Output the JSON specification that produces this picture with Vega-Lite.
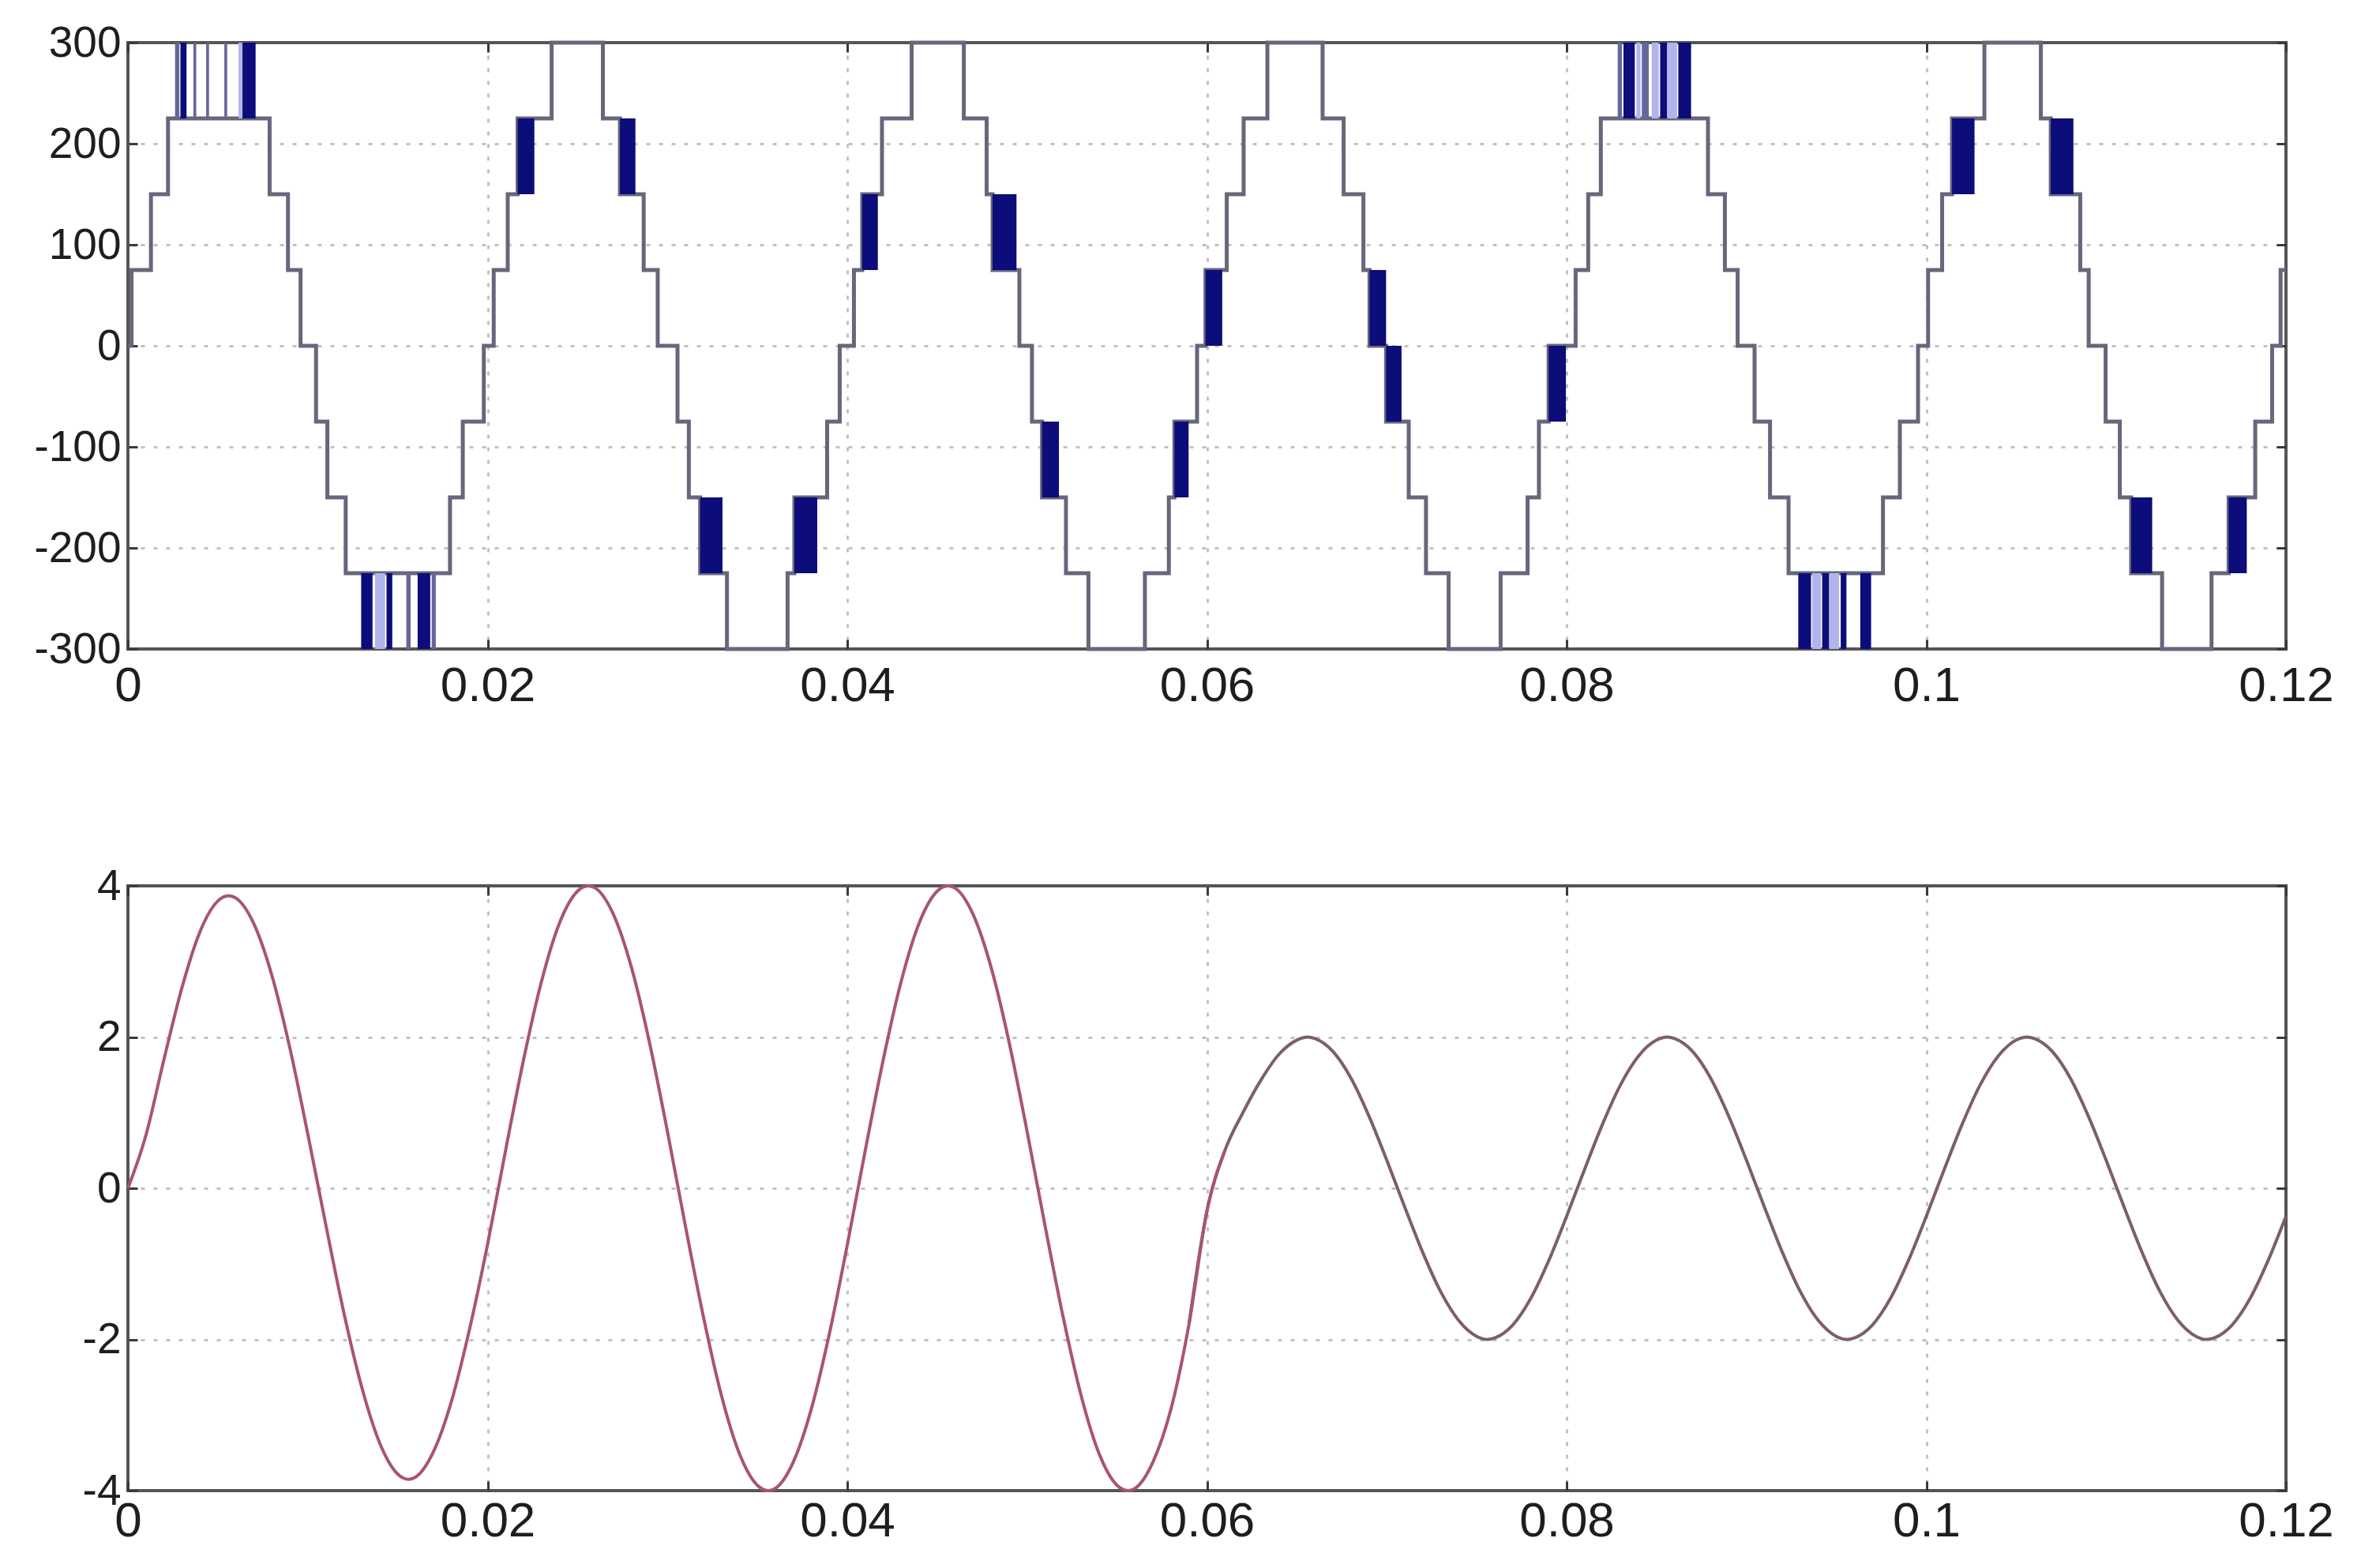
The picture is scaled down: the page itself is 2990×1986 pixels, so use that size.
{
  "$schema": "https://vega.github.io/schema/vega-lite/v6.json",
  "background": "white",
  "padding": {"left": 40, "top": 25, "right": 10, "bottom": 10},
  "spacing": 300,
  "bounds": "flush",
  "config": {
    "font": "Liberation Sans",
    "view": {"stroke": "#555555", "strokeWidth": 4},
    "axis": {"domain": false, "ticks": true, "tickSize": -12, "tickWidth": 3, "tickColor": "#3a3a3a", "grid": true, "gridColor": "#c2c2c2", "gridDash": [5, 11], "gridWidth": 3, "labelFont": "Liberation Sans", "labelColor": "#1e1e1e", "labelFlush": false, "labelOverlap": false, "labelBound": false},
    "axisX": {"labelFontSize": 62, "labelPadding": 28},
    "axisY": {"labelFontSize": 55, "labelPadding": 21}
  },
  "datasets": {
    "stairs": [
      {"t": 0, "v": 0}, {"t": 0.0002, "v": 75}, {"t": 0.00128, "v": 150}, {"t": 0.00223, "v": 225}, {"t": 0.00788, "v": 150}, {"t": 0.0089, "v": 75}, {"t": 0.0096, "v": 0}, {"t": 0.01046, "v": -75}, {"t": 0.01109, "v": -150}, {"t": 0.01211, "v": -225}, {"t": 0.01791, "v": -150}, {"t": 0.01862, "v": -75}, {"t": 0.01979, "v": 0},
      {"t": 0.02034, "v": 75}, {"t": 0.02112, "v": 150}, {"t": 0.02167, "v": 225}, {"t": 0.02356, "v": 300}, {"t": 0.02641, "v": 225}, {"t": 0.02736, "v": 150}, {"t": 0.02868, "v": 75}, {"t": 0.02946, "v": 0}, {"t": 0.03056, "v": -75}, {"t": 0.03119, "v": -150}, {"t": 0.03182, "v": -225}, {"t": 0.03331, "v": -300}, {"t": 0.03668, "v": -225}, {"t": 0.03706, "v": -150}, {"t": 0.03888, "v": -75}, {"t": 0.03958, "v": 0},
      {"t": 0.04037, "v": 75}, {"t": 0.04083, "v": 150}, {"t": 0.04193, "v": 225}, {"t": 0.04358, "v": 300}, {"t": 0.04648, "v": 225}, {"t": 0.04775, "v": 150}, {"t": 0.04808, "v": 75}, {"t": 0.04957, "v": 0}, {"t": 0.05027, "v": -75}, {"t": 0.05083, "v": -150}, {"t": 0.05216, "v": -225}, {"t": 0.05341, "v": -300}, {"t": 0.05655, "v": -225}, {"t": 0.05788, "v": -150}, {"t": 0.05819, "v": -75}, {"t": 0.05945, "v": 0},
      {"t": 0.05992, "v": 75}, {"t": 0.0611, "v": 150}, {"t": 0.06204, "v": 225}, {"t": 0.06336, "v": 300}, {"t": 0.06643, "v": 225}, {"t": 0.0676, "v": 150}, {"t": 0.0687, "v": 75}, {"t": 0.06904, "v": 0}, {"t": 0.06996, "v": -75}, {"t": 0.07122, "v": -150}, {"t": 0.07218, "v": -225}, {"t": 0.07344, "v": -300}, {"t": 0.07633, "v": -225}, {"t": 0.07783, "v": -150}, {"t": 0.07846, "v": -75}, {"t": 0.079, "v": 0},
      {"t": 0.0805, "v": 75}, {"t": 0.0812, "v": 150}, {"t": 0.0819, "v": 225}, {"t": 0.08786, "v": 150}, {"t": 0.0888, "v": 75}, {"t": 0.08951, "v": 0}, {"t": 0.09045, "v": -75}, {"t": 0.09131, "v": -150}, {"t": 0.09234, "v": -225}, {"t": 0.09759, "v": -150}, {"t": 0.09853, "v": -75}, {"t": 0.09954, "v": 0},
      {"t": 0.1001, "v": 75}, {"t": 0.10088, "v": 150}, {"t": 0.10143, "v": 225}, {"t": 0.10323, "v": 300}, {"t": 0.10637, "v": 225}, {"t": 0.10692, "v": 150}, {"t": 0.10856, "v": 75}, {"t": 0.10903, "v": 0}, {"t": 0.10997, "v": -75}, {"t": 0.11076, "v": -150}, {"t": 0.11139, "v": -225}, {"t": 0.11311, "v": -300}, {"t": 0.11586, "v": -225}, {"t": 0.11681, "v": -150}, {"t": 0.11829, "v": -75}, {"t": 0.11923, "v": 0}, {"t": 0.1197, "v": 75}, {"t": 0.12, "v": 75}
    ],
    "bands": [
      {"t0": 0.00262, "t1": 0.00286, "lo": 225, "hi": 300, "shade": "mid"},
      {"t0": 0.00292, "t1": 0.00326, "lo": 225, "hi": 300, "shade": "dark"},
      {"t0": 0.00364, "t1": 0.0038, "lo": 225, "hi": 300, "shade": "mid"},
      {"t0": 0.00435, "t1": 0.00451, "lo": 225, "hi": 300, "shade": "mid"},
      {"t0": 0.00536, "t1": 0.00552, "lo": 225, "hi": 300, "shade": "mid"},
      {"t0": 0.00615, "t1": 0.00637, "lo": 225, "hi": 300, "shade": "light"},
      {"t0": 0.00637, "t1": 0.0071, "lo": 225, "hi": 300, "shade": "dark"},
      {"t0": 0.01297, "t1": 0.0136, "lo": -300, "hi": -225, "shade": "dark"},
      {"t0": 0.01374, "t1": 0.0143, "lo": -300, "hi": -225, "shade": "light"},
      {"t0": 0.01438, "t1": 0.0147, "lo": -300, "hi": -225, "shade": "dark"},
      {"t0": 0.01548, "t1": 0.01572, "lo": -300, "hi": -225, "shade": "mid"},
      {"t0": 0.01611, "t1": 0.01681, "lo": -300, "hi": -225, "shade": "dark"},
      {"t0": 0.01689, "t1": 0.01712, "lo": -300, "hi": -225, "shade": "mid"},
      {"t0": 0.02167, "t1": 0.0226, "lo": 150, "hi": 225, "shade": "dark"},
      {"t0": 0.02736, "t1": 0.02822, "lo": 150, "hi": 225, "shade": "dark"},
      {"t0": 0.03182, "t1": 0.03306, "lo": -225, "hi": -150, "shade": "dark"},
      {"t0": 0.03706, "t1": 0.03833, "lo": -225, "hi": -150, "shade": "dark"},
      {"t0": 0.04083, "t1": 0.0417, "lo": 75, "hi": 150, "shade": "dark"},
      {"t0": 0.04808, "t1": 0.04941, "lo": 75, "hi": 150, "shade": "dark"},
      {"t0": 0.05083, "t1": 0.05177, "lo": -150, "hi": -75, "shade": "dark"},
      {"t0": 0.05819, "t1": 0.05898, "lo": -150, "hi": -75, "shade": "dark"},
      {"t0": 0.05992, "t1": 0.06085, "lo": 0, "hi": 75, "shade": "dark"},
      {"t0": 0.06904, "t1": 0.06996, "lo": 0, "hi": 75, "shade": "dark"},
      {"t0": 0.06996, "t1": 0.07082, "lo": -75, "hi": 0, "shade": "dark"},
      {"t0": 0.079, "t1": 0.07996, "lo": -75, "hi": 0, "shade": "dark"},
      {"t0": 0.08284, "t1": 0.08308, "lo": 225, "hi": 300, "shade": "mid"},
      {"t0": 0.08316, "t1": 0.08379, "lo": 225, "hi": 300, "shade": "dark"},
      {"t0": 0.08388, "t1": 0.08411, "lo": 225, "hi": 300, "shade": "light"},
      {"t0": 0.08418, "t1": 0.08457, "lo": 225, "hi": 300, "shade": "mid"},
      {"t0": 0.08473, "t1": 0.08512, "lo": 225, "hi": 300, "shade": "light"},
      {"t0": 0.0852, "t1": 0.08559, "lo": 225, "hi": 300, "shade": "dark"},
      {"t0": 0.08559, "t1": 0.08614, "lo": 225, "hi": 300, "shade": "light"},
      {"t0": 0.08621, "t1": 0.08692, "lo": 225, "hi": 300, "shade": "dark"},
      {"t0": 0.09288, "t1": 0.09359, "lo": -300, "hi": -225, "shade": "dark"},
      {"t0": 0.09365, "t1": 0.09415, "lo": -300, "hi": -225, "shade": "light"},
      {"t0": 0.09421, "t1": 0.0946, "lo": -300, "hi": -225, "shade": "dark"},
      {"t0": 0.0946, "t1": 0.09515, "lo": -300, "hi": -225, "shade": "light"},
      {"t0": 0.09524, "t1": 0.09556, "lo": -300, "hi": -225, "shade": "dark"},
      {"t0": 0.09633, "t1": 0.09693, "lo": -300, "hi": -225, "shade": "dark"},
      {"t0": 0.10143, "t1": 0.10268, "lo": 150, "hi": 225, "shade": "dark"},
      {"t0": 0.10692, "t1": 0.10818, "lo": 150, "hi": 225, "shade": "dark"},
      {"t0": 0.11139, "t1": 0.11256, "lo": -225, "hi": -150, "shade": "dark"},
      {"t0": 0.11681, "t1": 0.11782, "lo": -225, "hi": -150, "shade": "dark"}
    ],
    "current": [
      {"t": 0, "i": 0}, {"t": 0.001, "i": 0.7}, {"t": 0.002, "i": 1.7}, {"t": 0.003, "i": 2.65}, {"t": 0.004, "i": 3.39}, {"t": 0.005, "i": 3.8}, {"t": 0.0056, "i": 3.87}, {"t": 0.006, "i": 3.84}, {"t": 0.007, "i": 3.5}, {"t": 0.008, "i": 2.82}, {"t": 0.009, "i": 1.86}, {"t": 0.01, "i": 0.72}, {"t": 0.011, "i": -0.48}, {"t": 0.012, "i": -1.64}, {"t": 0.013, "i": -2.63}, {"t": 0.014, "i": -3.37}, {"t": 0.015, "i": -3.78}, {"t": 0.0156, "i": -3.85}, {"t": 0.016, "i": -3.82}, {"t": 0.017, "i": -3.48}, {"t": 0.018, "i": -2.81}, {"t": 0.019, "i": -1.86},
      {"t": 0.02, "i": -0.74}, {"t": 0.021, "i": 0.5}, {"t": 0.022, "i": 1.7}, {"t": 0.023, "i": 2.74}, {"t": 0.024, "i": 3.51}, {"t": 0.025, "i": 3.93}, {"t": 0.0256, "i": 4.0}, {"t": 0.026, "i": 3.97}, {"t": 0.027, "i": 3.62}, {"t": 0.028, "i": 2.92}, {"t": 0.029, "i": 1.93}, {"t": 0.03, "i": 0.75}, {"t": 0.031, "i": -0.5}, {"t": 0.032, "i": -1.7}, {"t": 0.033, "i": -2.74}, {"t": 0.034, "i": -3.51}, {"t": 0.035, "i": -3.93}, {"t": 0.0356, "i": -4.0}, {"t": 0.036, "i": -3.97}, {"t": 0.037, "i": -3.62}, {"t": 0.038, "i": -2.92}, {"t": 0.039, "i": -1.93},
      {"t": 0.04, "i": -0.75}, {"t": 0.041, "i": 0.5}, {"t": 0.042, "i": 1.7}, {"t": 0.043, "i": 2.74}, {"t": 0.044, "i": 3.51}, {"t": 0.045, "i": 3.93}, {"t": 0.0456, "i": 4.0}, {"t": 0.046, "i": 3.97}, {"t": 0.047, "i": 3.62}, {"t": 0.048, "i": 2.92}, {"t": 0.049, "i": 1.93}, {"t": 0.05, "i": 0.75}, {"t": 0.051, "i": -0.5}, {"t": 0.052, "i": -1.7}, {"t": 0.053, "i": -2.74}, {"t": 0.054, "i": -3.51}, {"t": 0.055, "i": -3.93}, {"t": 0.0556, "i": -4.0}, {"t": 0.056, "i": -3.97}, {"t": 0.057, "i": -3.62}, {"t": 0.058, "i": -2.92}, {"t": 0.059, "i": -1.8},
      {"t": 0.06, "i": -0.3}, {"t": 0.061, "i": 0.5}, {"t": 0.062, "i": 1.0}, {"t": 0.063, "i": 1.43}, {"t": 0.064, "i": 1.77}, {"t": 0.065, "i": 1.96}, {"t": 0.0656, "i": 2.0}, {"t": 0.066, "i": 1.98}, {"t": 0.067, "i": 1.81}, {"t": 0.068, "i": 1.46}, {"t": 0.069, "i": 0.96}, {"t": 0.07, "i": 0.37}, {"t": 0.071, "i": -0.25}, {"t": 0.072, "i": -0.85}, {"t": 0.073, "i": -1.37}, {"t": 0.074, "i": -1.75}, {"t": 0.075, "i": -1.96}, {"t": 0.0756, "i": -2.0}, {"t": 0.076, "i": -1.98}, {"t": 0.077, "i": -1.81}, {"t": 0.078, "i": -1.46}, {"t": 0.079, "i": -0.96},
      {"t": 0.08, "i": -0.37}, {"t": 0.081, "i": 0.25}, {"t": 0.082, "i": 0.85}, {"t": 0.083, "i": 1.37}, {"t": 0.084, "i": 1.75}, {"t": 0.085, "i": 1.96}, {"t": 0.0856, "i": 2.0}, {"t": 0.086, "i": 1.98}, {"t": 0.087, "i": 1.81}, {"t": 0.088, "i": 1.46}, {"t": 0.089, "i": 0.96}, {"t": 0.09, "i": 0.37}, {"t": 0.091, "i": -0.25}, {"t": 0.092, "i": -0.85}, {"t": 0.093, "i": -1.37}, {"t": 0.094, "i": -1.75}, {"t": 0.095, "i": -1.96}, {"t": 0.0956, "i": -2.0}, {"t": 0.096, "i": -1.98}, {"t": 0.097, "i": -1.81}, {"t": 0.098, "i": -1.46}, {"t": 0.099, "i": -0.96},
      {"t": 0.1, "i": -0.37}, {"t": 0.101, "i": 0.25}, {"t": 0.102, "i": 0.85}, {"t": 0.103, "i": 1.37}, {"t": 0.104, "i": 1.75}, {"t": 0.105, "i": 1.96}, {"t": 0.1056, "i": 2.0}, {"t": 0.106, "i": 1.98}, {"t": 0.107, "i": 1.81}, {"t": 0.108, "i": 1.46}, {"t": 0.109, "i": 0.96}, {"t": 0.11, "i": 0.37}, {"t": 0.111, "i": -0.25}, {"t": 0.112, "i": -0.85}, {"t": 0.113, "i": -1.37}, {"t": 0.114, "i": -1.75}, {"t": 0.115, "i": -1.96}, {"t": 0.1156, "i": -2.0}, {"t": 0.116, "i": -1.98}, {"t": 0.117, "i": -1.81}, {"t": 0.118, "i": -1.46}, {"t": 0.119, "i": -0.96}, {"t": 0.12, "i": -0.37}
    ]
  },
  "vconcat": [
    {
      "width": 2733,
      "height": 768,
      "resolve": {"axis": {"x": "independent", "y": "independent"}},
      "layer": [
        {
          "data": {"name": "stairs"},
          "mark": {"type": "line", "interpolate": "step-after", "color": "#66667c", "strokeWidth": 5},
          "encoding": {
            "x": {"field": "t", "type": "quantitative", "scale": {"domain": [0, 0.12], "nice": false, "zero": false}, "axis": {"orient": "bottom", "values": [0, 0.02, 0.04, 0.06, 0.08, 0.1, 0.12], "labelExpr": "'' + datum.value", "title": null, "gridOpacity": {"condition": {"test": "datum.value == 0 || datum.value == 0.12", "value": 0}, "value": 1}}},
            "y": {"field": "v", "type": "quantitative", "scale": {"domain": [-300, 300], "nice": false}, "axis": {"orient": "left", "values": [-300, -200, -100, 0, 100, 200, 300], "labelExpr": "'' + datum.value", "title": null, "gridOpacity": {"condition": {"test": "abs(datum.value) == 300", "value": 0}, "value": 1}}}
          }
        },
        {
          "data": {"name": "bands"},
          "mark": {"type": "rect"},
          "encoding": {
            "x": {"field": "t0", "type": "quantitative", "axis": {"orient": "top", "values": [0, 0.02, 0.04, 0.06, 0.08, 0.1, 0.12], "labels": false, "grid": false, "title": null}},
            "x2": {"field": "t1"},
            "y": {"field": "lo", "type": "quantitative", "axis": {"orient": "right", "values": [-300, -200, -100, 0, 100, 200, 300], "labels": false, "grid": false, "title": null}},
            "y2": {"field": "hi"},
            "color": {"field": "shade", "type": "nominal", "scale": {"domain": ["dark", "mid", "light"], "range": ["#0c0c7a", "#66669a", "#b4b4ec"]}, "legend": null}
          }
        }
      ]
    },
    {
      "width": 2733,
      "height": 766,
      "resolve": {"axis": {"x": "independent", "y": "independent"}},
      "layer": [
        {
          "data": {"name": "current"},
          "transform": [{"filter": "datum.t >= 0.059"}],
          "mark": {"type": "line", "interpolate": "monotone", "color": "#7c5f67", "strokeWidth": 4},
          "encoding": {
            "x": {"field": "t", "type": "quantitative", "scale": {"domain": [0, 0.12], "nice": false, "zero": false}, "axis": {"orient": "bottom", "values": [0, 0.02, 0.04, 0.06, 0.08, 0.1, 0.12], "labelExpr": "'' + datum.value", "title": null, "labelPadding": 20, "gridOpacity": {"condition": {"test": "datum.value == 0 || datum.value == 0.12", "value": 0}, "value": 1}}},
            "y": {"field": "i", "type": "quantitative", "scale": {"domain": [-4, 4], "nice": false}, "axis": {"orient": "left", "values": [-4, -2, 0, 2, 4], "labelExpr": "'' + datum.value", "title": null, "gridOpacity": {"condition": {"test": "abs(datum.value) == 4", "value": 0}, "value": 1}}}
          }
        },
        {
          "data": {"name": "current"},
          "transform": [{"filter": "datum.t <= 0.061"}],
          "mark": {"type": "line", "interpolate": "monotone", "color": "#a8566a", "strokeWidth": 4},
          "encoding": {
            "x": {"field": "t", "type": "quantitative", "axis": {"orient": "top", "values": [0, 0.02, 0.04, 0.06, 0.08, 0.1, 0.12], "labels": false, "grid": false, "title": null}},
            "y": {"field": "i", "type": "quantitative", "axis": {"orient": "right", "values": [-4, -2, 0, 2, 4], "labels": false, "grid": false, "title": null}}
          }
        }
      ]
    }
  ]
}
